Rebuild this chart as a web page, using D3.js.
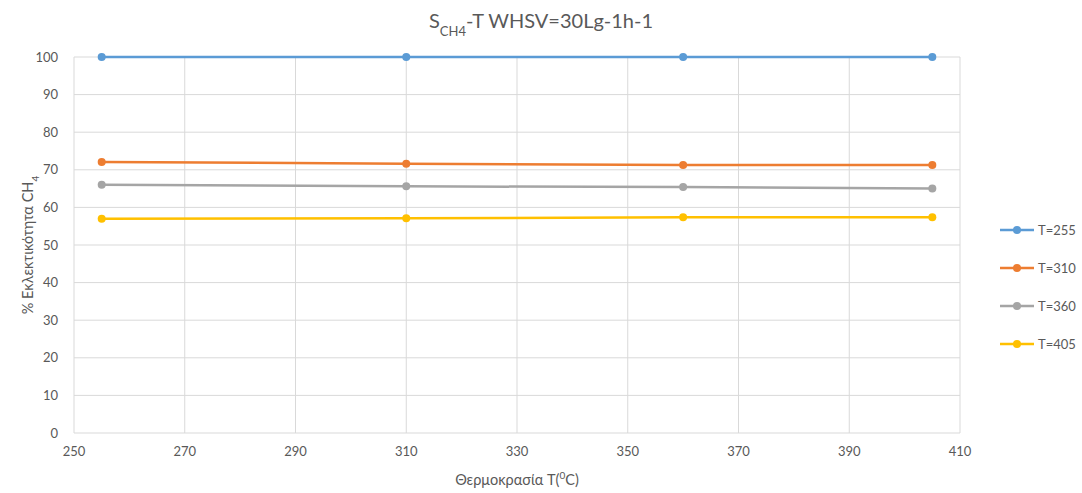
<!DOCTYPE html>
<html>
<head>
<meta charset="utf-8">
<script src="https://cdn.jsdelivr.net/npm/d3@7"></script>
<style>
  body { margin: 0; background: #fff; }
  text { font-family: Lato, "Open Sans", sans-serif; fill: #595959; }
</style>
</head>
<body>
<div id="chart"></div>
<script>
// chart data
var temps = [255, 310, 360, 405];
var seriesNames = ["T=255", "T=310", "T=360", "T=405"];
var s255 = [100, 100, 100, 100];
var s310 = [72.1, 71.6, 71.3, 71.3];
var s360 = [66.0, 65.6, 65.4, 65.0];
var s405 = [57.0, 57.1, 57.4, 57.4];
var colors = ["#5B9BD5", "#ED7D31", "#A5A5A5", "#FFC000"];
var xTicks = [250, 270, 290, 310, 330, 350, 370, 390, 410];
var yTicks = [0, 10, 20, 30, 40, 50, 60, 70, 80, 90, 100];

var allSeries = [s255, s310, s360, s405];

var width = 1082;
var height = 493;
var margin = { left: 74, right: 122, top: 57, bottom: 60 };

var svg = d3.select("#chart")
  .append("svg")
  .attr("width", width)
  .attr("height", height);

var x = d3.scaleLinear().domain([250, 410]).range([margin.left, width - margin.right]);
var y = d3.scaleLinear().domain([0, 100]).range([height - margin.bottom, margin.top]);

// gridlines
svg.append("g")
  .selectAll("line.h")
  .data(yTicks)
  .enter()
  .append("line")
  .attr("x1", x(250)).attr("x2", x(410))
  .attr("y1", d => y(d)).attr("y2", d => y(d))
  .style("stroke", "#d9d9d9").style("stroke-width", 1);

svg.append("g")
  .selectAll("line.v")
  .data(xTicks)
  .enter()
  .append("line")
  .attr("x1", d => x(d)).attr("x2", d => x(d))
  .attr("y1", y(0)).attr("y2", y(100))
  .style("stroke", "#d9d9d9").style("stroke-width", 1);

// tick labels
svg.append("g")
  .selectAll("text")
  .data(yTicks)
  .enter()
  .append("text")
  .attr("x", x(250) - 16)
  .attr("y", d => y(d) + 4.5)
  .attr("text-anchor", "end")
  .style("font-size", "13px")
  .text(d => d);

svg.append("g")
  .selectAll("text")
  .data(xTicks)
  .enter()
  .append("text")
  .attr("x", d => x(d))
  .attr("y", y(0) + 23)
  .attr("text-anchor", "middle")
  .style("font-size", "13px")
  .text(d => d);

// lines and markers
var line = d3.line()
  .x((d, i) => x(temps[i]))
  .y(d => y(d));

allSeries.forEach(function(s, k) {
  svg.append("path")
    .datum(s)
    .attr("d", line)
    .style("fill", "none")
    .style("stroke", colors[k])
    .style("stroke-width", 2.5);

  svg.append("g")
    .selectAll("circle")
    .data(s)
    .enter()
    .append("circle")
    .attr("cx", (d, i) => x(temps[i]))
    .attr("cy", d => y(d))
    .attr("r", 4)
    .style("fill", colors[k]);
});

// title
var title = svg.append("text")
  .attr("x", 541)
  .attr("y", 28)
  .attr("text-anchor", "middle")
  .style("font-size", "20px");
title.append("tspan").text("S");
title.append("tspan").attr("baseline-shift", "sub").style("font-size", "13px").text("CH4");
title.append("tspan").text("-T WHSV=30Lg-1h-1");

// axis titles
var xt = svg.append("text")
  .attr("x", (x(250) + x(410)) / 2)
  .attr("y", 485)
  .attr("text-anchor", "middle")
  .style("font-size", "14.5px");
xt.append("tspan").text("Θερμοκρασία T(");
xt.append("tspan").attr("baseline-shift", "super").style("font-size", "10px").text("0");
xt.append("tspan").text("C)");

var yt = svg.append("text")
  .attr("transform", "translate(33," + ((y(0) + y(100)) / 2) + ") rotate(-90)")
  .attr("text-anchor", "middle")
  .style("font-size", "14.5px");
yt.append("tspan").text("% Εκλεκτικότητα CH");
yt.append("tspan").attr("baseline-shift", "sub").style("font-size", "10px").text("4");

// legend
var legend = svg.append("g")
  .selectAll("g")
  .data(seriesNames)
  .enter()
  .append("g")
  .attr("transform", (d, i) => "translate(1000," + (230 + i * 38) + ")");

legend.append("line")
  .attr("x1", 0).attr("x2", 34)
  .attr("y1", 0).attr("y2", 0)
  .style("stroke", (d, i) => colors[i])
  .style("stroke-width", 2.5);

legend.append("circle")
  .attr("cx", 17).attr("cy", 0).attr("r", 4)
  .style("fill", (d, i) => colors[i]);

legend.append("text")
  .attr("x", 38)
  .attr("y", 4.5)
  .style("font-size", "13px")
  .text(d => d);
</script>
</body>
</html>
